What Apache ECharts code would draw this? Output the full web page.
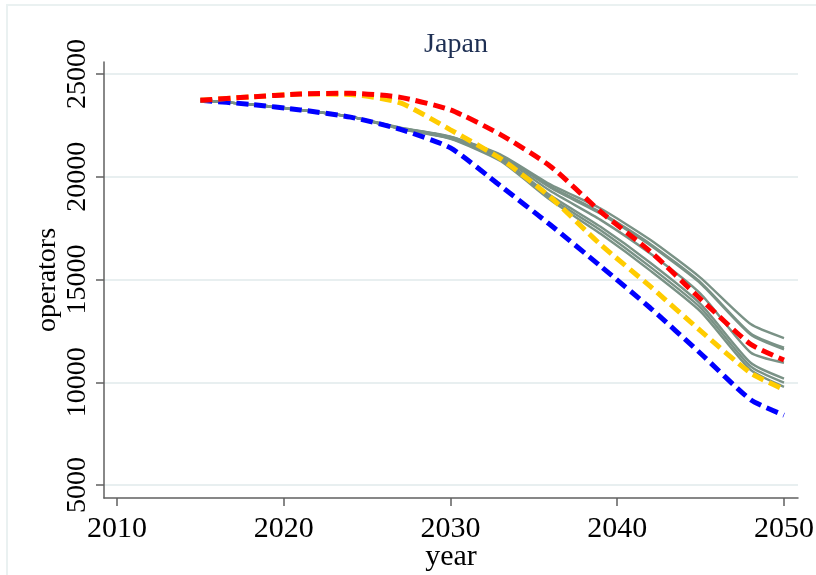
<!DOCTYPE html>
<html>
<head>
<meta charset="utf-8">
<script src="https://cdn.jsdelivr.net/npm/echarts@6/dist/echarts.min.js"></script>
<style>
  html, body { margin: 0; padding: 0; background: #fff; }
  #chart { width: 816px; height: 575px; }
</style>
</head>
<body>
<div id="chart"></div>
<script>
const years = [2015, 2018, 2021, 2024, 2027, 2030, 2033, 2036, 2039, 2042, 2045, 2048, 2050]

// grey runs (solid)
const grey1 = [23720, 23520, 23250, 22920, 22380, 21950, 21080, 19620, 18450, 16920, 15080, 12830, 12150]
const grey2 = [23720, 23520, 23250, 22920, 22370, 21930, 21040, 19520, 18270, 16720, 14860, 12380, 11680]
const grey3 = [23720, 23520, 23250, 22920, 22360, 21920, 21020, 19460, 18200, 16650, 14800, 12320, 11600]
const grey4 = [23720, 23520, 23250, 22920, 22350, 21900, 20960, 19300, 17900, 16250, 14300, 11450, 10950]
const grey5 = [23720, 23520, 23250, 22920, 22340, 21880, 20880, 19080, 17560, 15800, 13800, 10950, 10180]
const grey6 = [23720, 23520, 23250, 22920, 22330, 21860, 20820, 18960, 17400, 15600, 13620, 10770, 9980]
const grey7 = [23720, 23520, 23250, 22920, 22320, 21840, 20760, 18860, 17220, 15420, 13440, 10600, 9780]

// dashed runs
const blueRun = [23720, 23520, 23250, 22900, 22300, 21400, 19550, 17650, 15650, 13600, 11400, 9150, 8400]
const goldRun = [23720, 23880, 24020, 24000, 23590, 22280, 20880, 19000, 16700, 14650, 12500, 10450, 9650]
const redRun = [23720, 23880, 24020, 24060, 23860, 23250, 22050, 20500, 18300, 16350, 14050, 11850, 11080]

const xTicks = [2010, 2020, 2030, 2040, 2050]
const yTicks = [5000, 10000, 15000, 20000, 25000]

const font = 'Liberation Serif'
const pairs = vals => years.map((y, i) => [y, vals[i]])
const plain = v => String(Math.round(v))

const greySeries = [grey1, grey2, grey3, grey4, grey5, grey6, grey7].map(g => ({
  type: 'line',
  data: pairs(g),
  showSymbol: false,
  silent: true,
  smooth: 0.2,
  lineStyle: { color: '#7a9286', width: 2.4 }
}))

const dashed = (vals, color) => ({
  type: 'line',
  data: pairs(vals),
  showSymbol: false,
  silent: true,
  smooth: 0.2,
  lineStyle: { color: color, width: 5, type: [12, 6] }
})

const chart = echarts.init(document.getElementById('chart'))

chart.setOption({
  animation: false,
  backgroundColor: '#fff',
  title: {
    text: 'Japan',
    left: 451,
    top: 26,
    textAlign: 'center',
    textStyle: { fontFamily: font, fontSize: 28, fontWeight: 'normal', color: '#1e2f53' }
  },
  graphic: [{
    type: 'rect',
    shape: { x: 7, y: 5, width: 830, height: 600 },
    style: { fill: 'none', stroke: '#eaf1f1', lineWidth: 2 },
    silent: true
  }],
  grid: { left: 104, right: 18, top: 62, bottom: 77, outerBoundsMode: 'none', containLabel: false },
  xAxis: {
    type: 'value',
    min: 2009.22,
    max: 2050.84,
    name: 'year',
    nameLocation: 'middle',
    nameGap: 44,
    nameMoveOverlap: false,
    nameTextStyle: { fontFamily: font, fontSize: 30, color: '#000' },
    axisLine: { show: true, lineStyle: { color: '#606060', width: 1.5 } },
    axisTick: { show: true, length: 8, customValues: xTicks, lineStyle: { color: '#606060', width: 1.5 } },
    axisLabel: { customValues: xTicks, formatter: plain, fontFamily: font, fontSize: 30, color: '#000', margin: 16 },
    splitLine: { show: false }
  },
  yAxis: {
    type: 'value',
    min: 4370,
    max: 25580,
    name: 'operators',
    nameLocation: 'middle',
    nameGap: 42,
    nameMoveOverlap: false,
    nameRotate: 90,
    nameTextStyle: { fontFamily: font, fontSize: 28, color: '#000' },
    axisLine: { show: true, lineStyle: { color: '#606060', width: 1.5 } },
    axisTick: { show: true, length: 8, customValues: yTicks, lineStyle: { color: '#606060', width: 1.5 } },
    axisLabel: { customValues: yTicks, formatter: plain, rotate: 90, fontFamily: font, fontSize: 28, color: '#000', margin: 12 },
    splitLine: { show: true, lineStyle: { color: '#e8eff0', width: 2 } }
  },
  series: [
    ...greySeries,
    dashed(blueRun, '#0000ff'),
    dashed(goldRun, '#ffcc00'),
    dashed(redRun, '#ff0000')
  ]
})
</script>
</body>
</html>
